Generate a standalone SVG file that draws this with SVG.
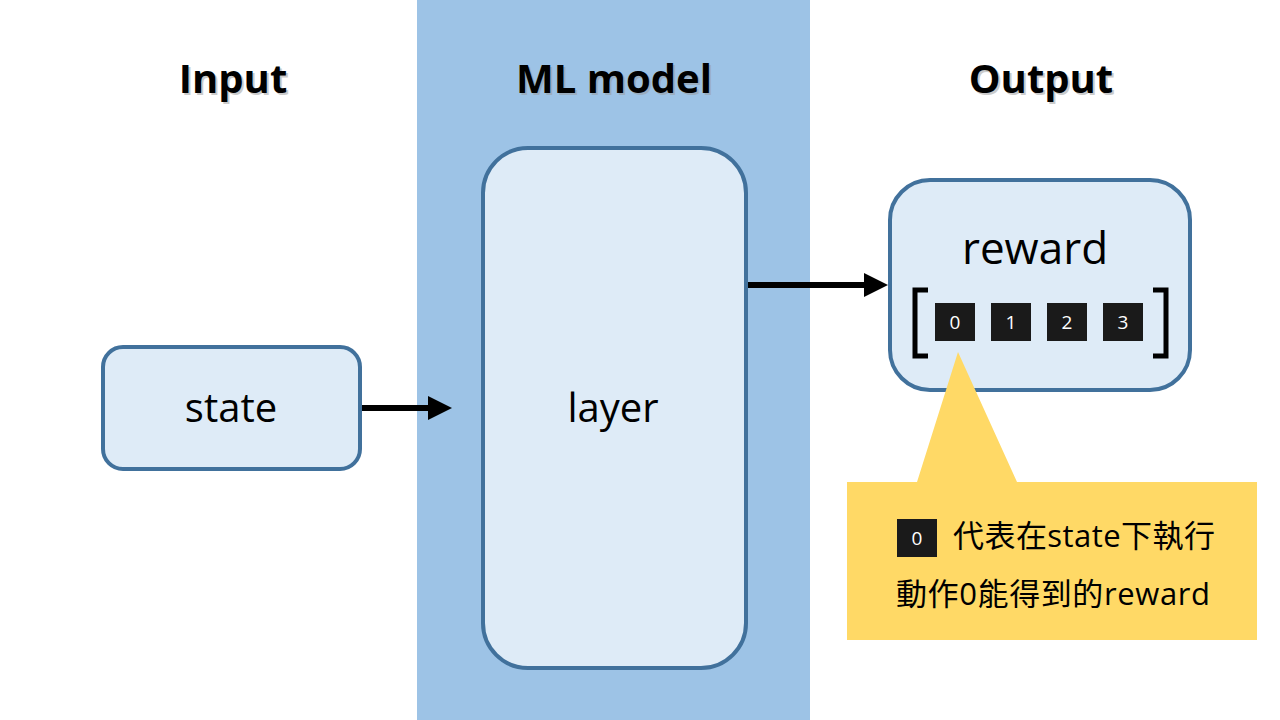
<svg xmlns="http://www.w3.org/2000/svg" width="1280" height="720" viewBox="0 0 1280 720">
<defs>
<style>
.box{fill:#DEEBF7;stroke:#41719C;stroke-width:4}
.title{font-family:"Open Sans","Noto Sans",sans-serif;font-weight:bold;font-size:40px;fill:#000;text-anchor:middle}
.shadow{font-family:"Open Sans","Noto Sans",sans-serif;font-weight:bold;font-size:40px;fill:#999;text-anchor:middle;opacity:0.5}
.lbl{font-family:"Open Sans","Noto Sans","Noto Sans CJK TC",sans-serif;font-size:40px;fill:#000;text-anchor:middle}
.big{font-size:44px}
.cell{fill:#1a1a1a}
.digit{font-family:"Open Sans","Noto Sans",sans-serif;font-size:19px;fill:#fff;text-anchor:middle}
.note{font-family:"Open Sans","Noto Sans CJK TC",sans-serif;font-size:31px;fill:#000}
.conn{stroke:#000;stroke-width:6;fill:none}
</style>
<marker id="ah" markerWidth="4" markerHeight="4" refX="0" refY="2" orient="auto" markerUnits="strokeWidth">
<path d="M0,0 L4,2 L0,4 Z" fill="#000"/>
</marker>
</defs>
<rect x="0" y="0" width="1280" height="720" fill="#fff"/>
<rect id="band" x="417" y="0" width="393" height="720" fill="#9DC3E6"/>
<g id="titles">
<text class="shadow" x="235" y="95">Input</text>
<text class="title" x="233" y="93">Input</text>
<text class="shadow" x="616" y="95">ML model</text>
<text class="title" x="614" y="93">ML model</text>
<text class="shadow" x="1043" y="95">Output</text>
<text class="title" x="1041" y="93">Output</text>
</g>
<g id="connectors">
<line class="conn" x1="362" y1="408" x2="428" y2="408" marker-end="url(#ah)"/>
<line class="conn" x1="748" y1="285" x2="864" y2="285" marker-end="url(#ah)"/>
</g>
<g id="state">
<rect class="box" x="103" y="347" width="257" height="122" rx="20"/>
<text class="lbl" x="231" y="422">state</text>
</g>
<g id="layer">
<rect class="box" x="483" y="148" width="263" height="520" rx="45"/>
<text class="lbl" x="613" y="422">layer</text>
</g>
<g id="output">
<rect class="box" x="890" y="180" width="300" height="210" rx="40"/>
<text class="lbl big" x="1035" y="264">reward</text>
<path d="M928,290 L915,290 L915,356 L928,356" fill="none" stroke="#000" stroke-width="5"/>
<path d="M1153,290 L1166,290 L1166,356 L1153,356" fill="none" stroke="#000" stroke-width="5"/>
<rect class="cell" x="935" y="303" width="40" height="38"/>
<rect class="cell" x="991" y="303" width="40" height="38"/>
<rect class="cell" x="1047" y="303" width="40" height="38"/>
<rect class="cell" x="1103" y="303" width="40" height="38"/>
<text class="digit" x="955" y="329">0</text>
<text class="digit" x="1011" y="329">1</text>
<text class="digit" x="1067" y="329">2</text>
<text class="digit" x="1123" y="329">3</text>
</g>
<g id="callout">
<path d="M958,352 L1017,482 L1257,482 L1257,640 L847,640 L847,482 L917,482 Z" fill="#FFD966"/>
<rect class="cell" x="897" y="519" width="40" height="38"/>
<text class="digit" x="917" y="545">0</text>
<text class="note" x="953" y="547" textLength="262" lengthAdjust="spacing">代表在state下執行</text>
<text class="note" x="896" y="605" textLength="314" lengthAdjust="spacing">動作0能得到的reward</text>
</g>
</svg>
